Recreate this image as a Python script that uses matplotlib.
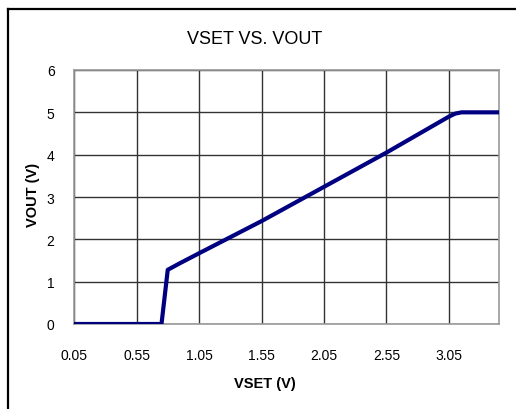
import matplotlib
matplotlib.use('Agg')
import matplotlib.pyplot as plt
from matplotlib.lines import Line2D

# values
vset = [0.05, 0.55, 0.75, 0.80, 0.90, 1.05, 1.55, 2.05, 2.55, 3.05, 3.10, 3.15, 3.45]
vout = [0.00, 0.00, 0.00, 1.28, 1.44, 1.67, 2.43, 3.24, 4.05, 4.90, 4.97, 5.00, 5.00]
x_ticks = [0.05, 0.55, 1.05, 1.55, 2.05, 2.55, 3.05]
y_ticks = [0, 1, 2, 3, 4, 5, 6]

plt.rcParams['font.family'] = ['Liberation Sans', 'DejaVu Sans']

fig = plt.figure(figsize=(5.16, 4.10), dpi=100)
ax = fig.add_axes([74 / 516, 1 - 325 / 410, 425 / 516, 254 / 410])

ax.plot(vset, vout, color='#000080', linewidth=3, solid_capstyle='butt', zorder=3)

ax.set_xlim(0.05, 3.45)
ax.set_ylim(0, 6)
ax.set_xticks(x_ticks)
ax.set_xticklabels([f'{t:.2f}' for t in x_ticks])
ax.set_yticks(y_ticks)
ax.tick_params(length=0, labelsize=10)
ax.tick_params(axis='x', pad=17)
ax.tick_params(axis='y', pad=14)
ax.grid(True, color='#333333', linewidth=1)
for s in ax.spines.values():
    s.set_color('#999999')
    s.set_linewidth(1.2)

fig.text(255 / 516, 1 - 40 / 410, 'VSET VS. VOUT', ha='center', va='center', fontsize=13)
fig.text(265 / 516, 1 - 384 / 410, 'VSET (V)', ha='center', va='center',
         fontsize=10.5, fontweight='bold')
fig.text(33 / 516, 1 - 195 / 410, 'VOUT (V)', ha='center', va='center',
         rotation=90, fontsize=10.5, fontweight='bold')

# outer frame (left and top edges only, as in the original)
fig.add_artist(Line2D([7.5 / 516, 7.5 / 516], [0, 1 - 10 / 410], color='black', linewidth=1.6,
                      transform=fig.transFigure))
fig.add_artist(Line2D([7.5 / 516, 1], [1 - 10 / 410, 1 - 10 / 410], color='black', linewidth=1.6,
                      transform=fig.transFigure))

fig.savefig('out.png', dpi=100)
